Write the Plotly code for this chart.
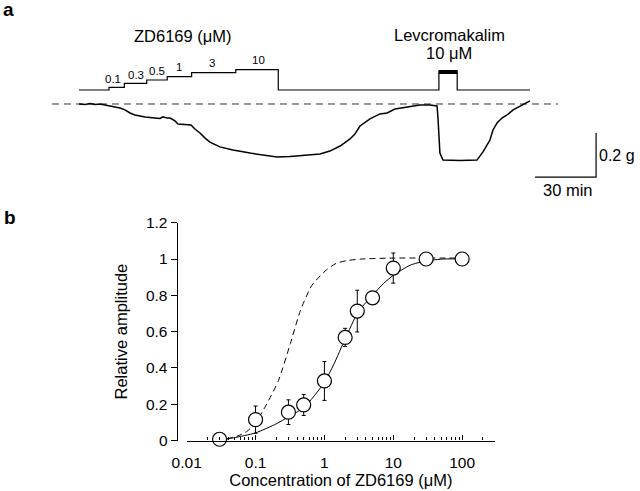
import plotly.graph_objects as go

# ---------------- Panel a data (time in min, tension in g relative to baseline) ----------------
trace_t = [0, 3.0, 5.4, 7.9, 10.3, 12.8, 15.2, 17.7, 20.2, 22.6, 25.1, 27.5, 30.0, 32.5, 34.9,
           37.4, 39.8, 41.3, 43.3, 44.8, 47.2, 48.7, 52.1, 55.1, 57.0, 59.5, 62.0, 64.4, 69.3,
           75.7, 84.1, 91.5, 97.4, 103.8, 108.7, 113.6, 118.5, 123.4, 128.4, 133.3, 135.7,
           138.2, 140.7, 143.1, 148.0, 151.5, 155.4, 161.3, 167.7, 172.6, 176.1, 176.6, 177.0,
           177.5, 179.0, 187.4, 195.7, 198.7, 200.7, 202.1, 203.6, 205.6, 208.0, 210.5, 213.5,
           216.9, 219.3, 221.8]
trace_g = [0, -0.002, 0.002, -0.002, 0, -0.005, -0.009, -0.014, -0.018, -0.027, -0.041, -0.05,
           -0.055, -0.059, -0.061, -0.064, -0.066, -0.058, -0.064, -0.064, -0.077, -0.091, -0.093,
           -0.095, -0.114, -0.132, -0.155, -0.173, -0.195, -0.209, -0.223, -0.234, -0.241,
           -0.239, -0.236, -0.232, -0.227, -0.214, -0.191, -0.159, -0.136, -0.1, -0.082, -0.068,
           -0.045, -0.041, -0.023, -0.014, -0.005, -0.005, -0.009, -0.073, -0.164, -0.223,
           -0.255, -0.257, -0.255, -0.218, -0.186, -0.164, -0.118, -0.086, -0.064, -0.05,
           -0.027, -0.009, 0, 0.014]
baseline_t = [-13.3, 235.6]
baseline_g = [0, 0]

# drug application protocol (arbitrary level units)
protocol_t = [0, 14.75, 14.75, 22.3, 22.3, 33.3, 33.3, 43.4, 43.4, 55.4, 55.4, 77.1, 77.1,
              98.0, 98.0, 177.0, 177.0, 186.0, 186.0, 221.8]
protocol_lvl = [0, 0, 2.7, 2.7, 6.7, 6.7, 10, 10, 13.3, 13.3, 17.3, 17.3, 20.3, 20.3, 0, 0,
                19, 19, 0, 0]
lev_bar_t = [177.0, 186.0]
lev_bar_lvl = [18, 18]
dose_labels = ["0.1", "0.3", "0.5", "1", "3", "10"]
dose_label_t = [16.7, 28.0, 38.2, 49.2, 65.3, 88.5]
dose_label_lvl = [11, 15.3, 19.3, 23.3, 26.7, 30]

scale_t0, scale_g0 = 224.3, -0.332
scale_len_t, scale_len_g = 30, 0.2

# ---------------- Panel b data ----------------
conc = [0.03, 0.1, 0.3, 0.5, 1, 2, 3, 5, 10, 30, 100]
rel_amp = [0.007, 0.115, 0.156, 0.196, 0.328, 0.568, 0.713, 0.786, 0.95, 1.0, 1.0]
rel_err = [0, 0.075, 0.068, 0.058, 0.107, 0.05, 0.115, 0, 0.083, 0, 0]

fit_x = [0.03, 0.048, 0.1, 0.2, 0.3, 0.5, 0.69, 1, 1.37, 2, 3, 4, 5, 7.2, 10, 17.6, 30, 55, 110]
fit_y = [0.005, 0.015, 0.042, 0.092, 0.13, 0.18, 0.24, 0.32, 0.42, 0.56, 0.70, 0.76, 0.80,
         0.865, 0.91, 0.966, 0.99, 1.0, 1.0]
ref_x = [0.038, 0.055, 0.075, 0.1, 0.14, 0.215, 0.32, 0.45, 0.66, 1.07, 1.5, 2.2, 3.5, 10, 120]
ref_y = [0.008, 0.025, 0.05, 0.10, 0.19, 0.33, 0.534, 0.718, 0.856, 0.94, 0.977, 0.992, 1.0,
         1.005, 1.005]

FONT = "Arial, Liberation Sans, sans-serif"
W, H = 640, 491

fig = go.Figure()

# panel a
fig.add_trace(go.Scatter(x=baseline_t, y=baseline_g, xaxis="x2", yaxis="y2", mode="lines",
                         line=dict(color="#333", width=1, dash="7px,5px"), hoverinfo="skip"))
fig.add_trace(go.Scatter(x=trace_t, y=trace_g, xaxis="x2", yaxis="y2", mode="lines",
                         line=dict(color="black", width=1.5)))
fig.add_trace(go.Scatter(x=protocol_t, y=protocol_lvl, xaxis="x2", yaxis="y3", mode="lines",
                         line=dict(color="black", width=1.2)))
fig.add_trace(go.Scatter(x=lev_bar_t, y=lev_bar_lvl, xaxis="x2", yaxis="y3", mode="lines",
                         line=dict(color="black", width=4)))
fig.add_trace(go.Scatter(x=[scale_t0, scale_t0 + scale_len_t, scale_t0 + scale_len_t],
                         y=[scale_g0, scale_g0, scale_g0 + scale_len_g],
                         xaxis="x2", yaxis="y2", mode="lines",
                         line=dict(color="black", width=1.2)))

# panel b
fig.add_trace(go.Scatter(x=ref_x, y=ref_y, mode="lines", line=dict(color="black", width=1,
                         dash="6px,4px", shape="spline", smoothing=0.6), cliponaxis=False))
fig.add_trace(go.Scatter(x=fit_x, y=fit_y, mode="lines", line=dict(color="black", width=1,
                         shape="spline", smoothing=0.6), cliponaxis=False))
fig.add_trace(go.Scatter(x=conc, y=rel_amp, mode="markers", cliponaxis=False,
                         marker=dict(size=14, color="white", line=dict(color="black", width=1.2)),
                         error_y=dict(type="data", array=rel_err, color="black", thickness=1,
                                      width=2)))

TXT = dict(family=FONT, color="black")
ann = []
for lab, t, l in zip(dose_labels, dose_label_t, dose_label_lvl):
    ann.append(dict(x=t, y=l, xref="x2", yref="y3", text=lab, font=dict(size=11.5, **TXT)))
ann += [
    dict(x=51.1, y=54, xref="x2", yref="y3", text="ZD6169 (μM)", font=dict(size=16.5, **TXT)),
    dict(x=182, y=55, xref="x2", yref="y3", text="Levcromakalim", font=dict(size=16.5, **TXT)),
    dict(x=182, y=37, xref="x2", yref="y3", text="10 μM", font=dict(size=16.5, **TXT)),
    dict(x=255.3, y=-0.232, xref="x2", yref="y2", text="0.2 g", xanchor="left",
         font=dict(size=16, **TXT)),
    dict(x=240.5, y=-0.391, xref="x2", yref="y2", text="30 min", font=dict(size=16.5, **TXT)),
    dict(x=8 / W, y=1 - 10 / H, xref="paper", yref="paper", text="<b>a</b>",
         font=dict(size=19, **TXT)),
    dict(x=10 / W, y=1 - 217 / H, xref="paper", yref="paper", text="<b>b</b>",
         font=dict(size=19, **TXT)),
]
for a in ann:
    a.setdefault("showarrow", False)
    a.setdefault("xanchor", "center")
    a.setdefault("yanchor", "middle")
    a.setdefault("borderpad", 0)

fig.update_layout(
    width=W, height=H, margin=dict(l=0, r=0, t=0, b=0, pad=0, autoexpand=False),
    paper_bgcolor="white", plot_bgcolor="white", showlegend=False,
    font=dict(family=FONT, color="black"),
    annotations=ann,
    xaxis=dict(type="log", range=[-2, 2.4771], domain=[186.7 / W, 495 / W], anchor="y",
               automargin=False,
               showline=True, linecolor="black", linewidth=1.2, showgrid=False, zeroline=False,
               ticks="inside", ticklen=5, tickwidth=1, tickcolor="black",
               tickvals=[0.01, 0.1, 1, 10, 100], ticktext=["0.01", "0.1", "1", "10", "100"],
               minor=dict(ticks="inside", ticklen=3, tickwidth=1, tickcolor="black",
                          dtick="D1", showgrid=False),
               ticklabelstandoff=8, tickfont=dict(size=15.5),
               title=dict(text="Concentration of ZD6169 (μM)", font=dict(size=16.5), standoff=4)),
    yaxis=dict(range=[0, 1.2], domain=[1 - 440.5 / H, 1 - 222.7 / H], anchor="free",
               position=176.7 / W, automargin=False, showline=True, linecolor="black",
               linewidth=1.2, showgrid=False, zeroline=False, ticks="outside", ticklen=6,
               tickwidth=1.2, tickcolor="black", tickvals=[0, 0.2, 0.4, 0.6, 0.8, 1, 1.2],
               ticktext=["0", "0.2", "0.4", "0.6", "0.8", "1", "1.2"], tickfont=dict(size=15.5),
               title=dict(text="Relative amplitude", font=dict(size=16.5), standoff=13)),
    xaxis2=dict(domain=[0, 1], range=[-38.85, 275.9], visible=False, anchor="y2",
                automargin=False),
    yaxis2=dict(domain=[1 - 200 / H, 1], range=[-0.4364, 0.4727], visible=False, anchor="x2",
                automargin=False),
    yaxis3=dict(domain=[1 - 200 / H, 1], range=[-110, 90], visible=False, anchor="x2",
                overlaying="y2", automargin=False),
)

fig.write_html("out.html", config={"displayModeBar": False},
               post_script="document.body.style.margin='0';")
